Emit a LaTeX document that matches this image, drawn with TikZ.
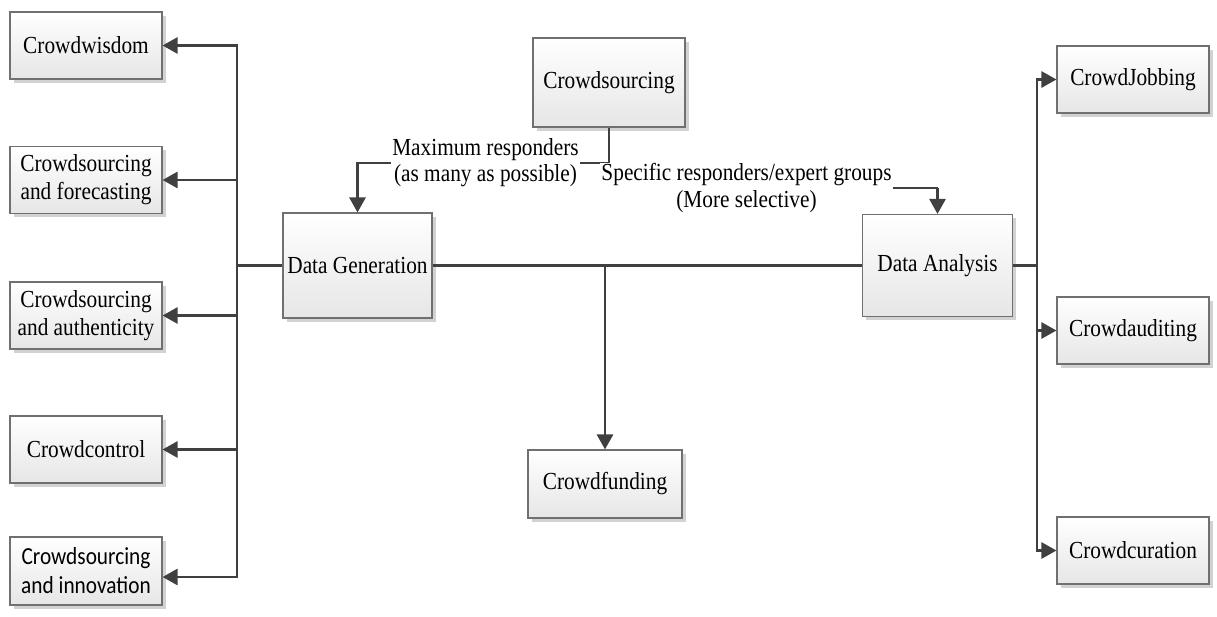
\documentclass[tikz,border=0pt]{standalone}
\usepackage{fontspec}
\setmainfont{Liberation Serif}[FakeStretch=0.87]
\newfontfamily\calibrifont{Carlito}[FakeStretch=0.87]
\usetikzlibrary{arrows.meta,shadows}
\definecolor{boxedge}{HTML}{707070}
\definecolor{boxfill}{HTML}{E6E6E6}
\definecolor{shadowgray}{HTML}{D2D2D2}
\definecolor{linkgray}{HTML}{404040}
\begin{document}
\begin{tikzpicture}[x=1pt,y=-1pt,
  box/.style={draw=boxedge, line width=1.1pt, top color=white, bottom color=boxfill,
    minimum width=152pt, minimum height=67pt, inner sep=2pt, align=center,
    font=\fontsize{24.5}{28}\selectfont,
    drop shadow={shadow xshift=3.5pt,shadow yshift=-3.5pt,fill=shadowgray,opacity=1}},
  link/.style={draw=linkgray, line width=2.8pt},
  arr/.style={link, -{Triangle[length=15pt,width=16pt]}},
  lab/.style={fill=white, inner sep=1pt, align=center, font=\fontsize{24.5}{26.5}\selectfont}]
\useasboundingbox (0,0) rectangle (1217,616);

% left column
\node[box] (cw) at (86,45.5) {Crowdwisdom};
\node[box] (cf) at (86,180) {Crowdsourcing\\and forecasting};
\node[box] (ca) at (86,315.5) {Crowdsourcing\\and authenticity};
\node[box] (cc) at (86,449.5) {Crowdcontrol};
\node[box, minimum height=68pt, font=\calibrifont\fontsize{24.5}{29}\selectfont] (ci) at (86,571) {Crowdsourcing\\and innovation};

% centre
\node[box, minimum height=89pt] (cs) at (609,82.5) {Crowdsourcing};
\node[box, minimum width=149pt, minimum height=105pt] (dg) at (357.5,265.5) {Data Generation};
\node[box, minimum width=150pt, minimum height=102pt] (da) at (937.5,265.5) {Data Analysis};
\node[box, minimum width=154pt, minimum height=68pt] (fund) at (605,484) {Crowdfunding};

% right column
\node[box] (cj) at (1133,79.5) {CrowdJobbing};
\node[box] (cau) at (1133,330.5) {Crowdauditing};
\node[box] (ccu) at (1133,550.5) {Crowdcuration};

% left bus
\coordinate (lb) at (237,265.5);
\draw[link] (dg.west) -- (lb);
\draw[arr] (lb) |- (cw.east);
\draw[arr] (lb) |- (cf.east);
\draw[arr] (lb) |- (ca.east);
\draw[arr] (lb) |- (cc.east);
\draw[arr] (lb) |- ([yshift=-6pt]ci.east);

% main line and funding branch
\draw[link] (dg.east) -- (da.west);
\coordinate (fb) at (605,265.5);
\draw[arr] (fb) -- (fund.north);

% right bus
\coordinate (rb) at (1037,265.5);
\draw[link] (da.east) -- (rb);
\draw[arr] (rb) |- (cj.west);
\draw[arr] (rb) |- (cau.west);
\draw[arr] (rb) |- (ccu.west);

% crowdsourcing split
\coordinate (jn) at (609,163);
\coordinate (rt) at (937.5,188);
\draw[link] (cs.south) -- (jn);
\draw[arr] (jn) -| (dg.north);
\draw[link] (jn) |- (rt);
\draw[arr] (rt) -- (da.north);
\node[lab] (lmax) at (485.5,162.5) {Maximum responders\\(as many as possible)};
\node[lab] (lsel) at (746.5,188) {Specific responders/expert groups\\(More selective)};
\end{tikzpicture}
\end{document}
